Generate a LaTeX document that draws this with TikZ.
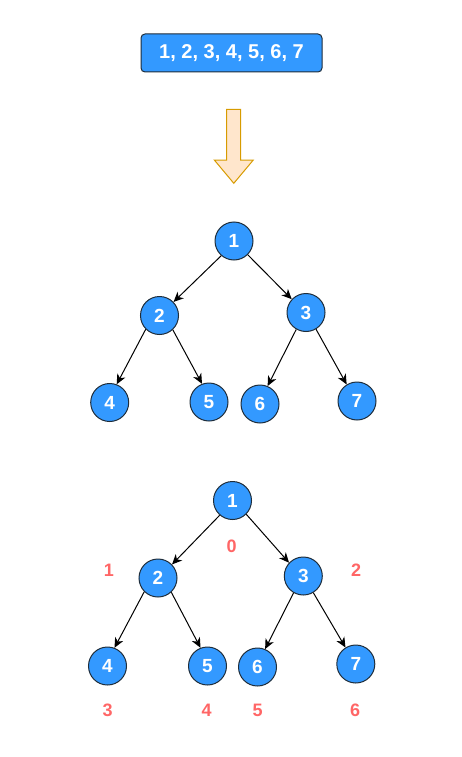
\documentclass[tikz,border=0pt]{standalone}
\usepackage{fontspec}
\setmainfont{Liberation Sans}
\usetikzlibrary{arrows.meta}
\definecolor{nodeblue}{HTML}{3399FF}
\definecolor{nodeline}{HTML}{1F2D3A}
\definecolor{arrowfill}{HTML}{FFE6CC}
\definecolor{arrowline}{HTML}{D79B00}
\definecolor{idxred}{HTML}{FF6666}
\begin{document}
\begin{tikzpicture}[x=1pt,y=-1pt,
  treenode/.style={circle,draw=nodeline,fill=nodeblue,line width=1pt,minimum size=38pt,inner sep=0pt,text=white,font=\fontsize{19}{21}\selectfont\bfseries},
  link/.style={line width=1pt,-{Stealth[length=10pt,width=9pt,inset=3pt]}},
  idx/.style={text=idxred,font=\fontsize{18}{20}\selectfont\bfseries,inner sep=0pt},
  listbox/.style={rectangle,rounded corners=4pt,draw=nodeline,fill=nodeblue,line width=1pt,minimum width=181pt,minimum height=38pt,inner sep=0pt,text=white,font=\fontsize{20}{24}\selectfont\bfseries}]
\useasboundingbox (0,0) rectangle (461,757);
\node[listbox] (list) at (231.5,53) {1, 2, 3, 4, 5, 6, 7};
\draw[draw=arrowline,fill=arrowfill,line width=1pt,line join=miter]
  (226.7,109.3) -- (240.7,109.3) -- (240.7,160) -- (253.3,160) -- (233.8,183.3) -- (214.3,160) -- (226.7,160) -- cycle;
% tree 1
\node[treenode] (a1) at (234,241) {1};
\node[treenode] (a2) at (159.5,315.5) {2};
\node[treenode] (a3) at (306,312.5) {3};
\node[treenode] (a4) at (109.7,402.5) {4};
\node[treenode] (a5) at (209,402) {5};
\node[treenode] (a6) at (260,404) {6};
\node[treenode] (a7) at (357,401) {7};
\draw[link] (a1.229) -- (a2.44);
\draw[link] (a1.315) -- (a3.137);
\draw[link] (a2.225) -- (a4.69);
\draw[link] (a2.313) -- (a5.111);
\draw[link] (a3.240) -- (a6.67);
\draw[link] (a3.301) -- (a7.122);
% tree 2
\node[treenode] (b1) at (232.5,500.5) {1};
\node[treenode] (b2) at (158,578) {2};
\node[treenode] (b3) at (303.3,576) {3};
\node[treenode] (b4) at (107.5,666) {4};
\node[treenode] (b5) at (207.5,666) {5};
\node[treenode] (b6) at (257.5,667) {6};
\node[treenode] (b7) at (355.8,664) {7};
\draw[link] (b1.229) -- (b2.44);
\draw[link] (b1.315) -- (b3.137);
\draw[link] (b2.225) -- (b4.69);
\draw[link] (b2.313) -- (b5.111);
\draw[link] (b3.240) -- (b6.67);
\draw[link] (b3.301) -- (b7.122);
% indices
\node[idx] (i0) at (231.7,546.7) {0};
\node[idx] (i1) at (109,570) {1};
\node[idx] (i2) at (356,570) {2};
\node[idx] (i3) at (107.7,710) {3};
\node[idx] (i4) at (206.7,710) {4};
\node[idx] (i5) at (257.7,710) {5};
\node[idx] (i6) at (355,710) {6};
\end{tikzpicture}
\end{document}
